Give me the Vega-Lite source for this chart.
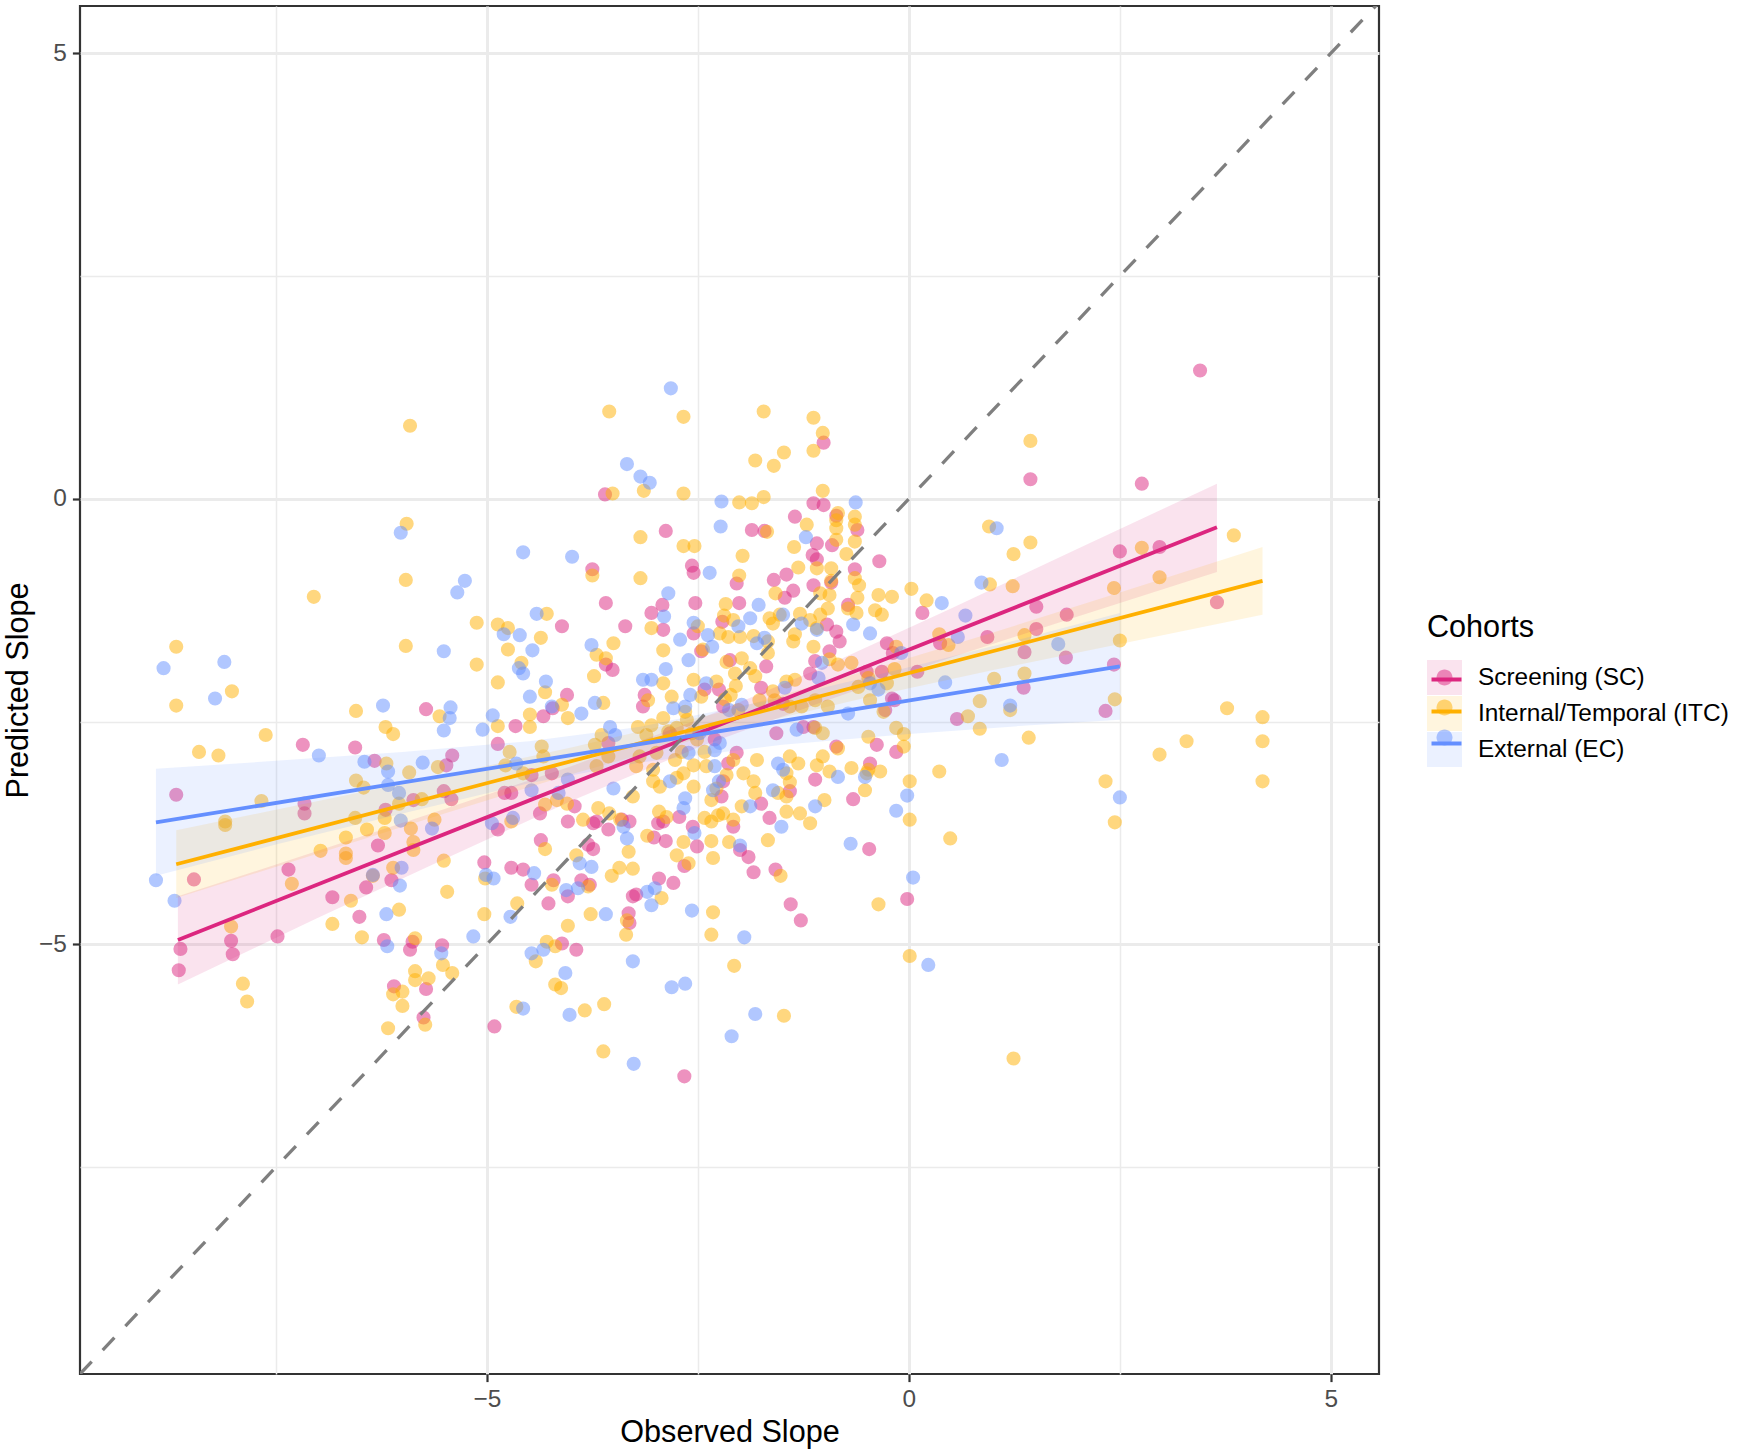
{
  "$schema": "https://vega.github.io/schema/vega-lite/v6.json",
  "width": 1299,
  "height": 1368,
  "autosize": {"type": "none"},
  "padding": {"left": 80, "top": 6, "right": 368, "bottom": 76},
  "background": "white",
  "config": {
    "view": {"stroke": "#333333", "strokeWidth": 2.2},
    "font": "Liberation Sans",
    "axis": {
      "domain": false,
      "grid": true,
      "format": ".0f",
      "gridColor": "#EBEBEB",
      "gridWidth": {"condition": {"test": "datum.value % 5 === 0", "value": 3}, "value": 1.5},
      "tickOpacity": {"condition": {"test": "datum.value % 5 === 0", "value": 1}, "value": 0},
      "tickColor": "#333333",
      "tickWidth": 2.2,
      "tickSize": 7.6,
      "labelFont": "Liberation Sans",
      "labelFontSize": 24.4,
      "labelColor": "#4D4D4D",
      "labelPadding": 6,
      "labelExpr": "datum.value % 5 === 0 ? datum.label : ''",
      "titleFont": "Liberation Sans",
      "titleFontSize": 30.6,
      "titleFontWeight": "normal",
      "titleColor": "black"
    },
    "legend": {
      "orient": "none",
      "legendX": 1347,
      "direction": "vertical",
      "padding": 0,
      "titleFont": "Liberation Sans",
      "titleFontSize": 30.6,
      "titleFontWeight": "normal",
      "titleColor": "black",
      "titlePadding": 16.5,
      "labelFont": "Liberation Sans",
      "labelFontSize": 24.4,
      "labelColor": "black",
      "labelOffset": 16,
      "labelLimit": 400,
      "rowPadding": 1,
      "symbolSize": 1225
    }
  },
  "datasets": {
    "fit": [
      {"cohort": "SC", "obs": -8.66, "pred": -4.95},
      {"cohort": "SC", "obs": 3.65, "pred": -0.32},
      {"cohort": "ITC", "obs": -8.68, "pred": -4.10},
      {"cohort": "ITC", "obs": 4.19, "pred": -0.92},
      {"cohort": "EC", "obs": -8.92, "pred": -3.63},
      {"cohort": "EC", "obs": 2.50, "pred": -1.88}
    ],
    "band": [
      {"cohort": "SC", "obs": -8.66, "lo": -5.45, "hi": -4.46},
      {"cohort": "SC", "obs": -7.0, "lo": -4.70, "hi": -3.95},
      {"cohort": "SC", "obs": -5.5, "lo": -4.04, "hi": -3.48},
      {"cohort": "SC", "obs": -4.0, "lo": -3.39, "hi": -3.00},
      {"cohort": "SC", "obs": -2.5, "lo": -2.79, "hi": -2.48},
      {"cohort": "SC", "obs": -1.0, "lo": -2.27, "hi": -1.88},
      {"cohort": "SC", "obs": 0.5, "lo": -1.78, "hi": -1.23},
      {"cohort": "SC", "obs": 2.0, "lo": -1.32, "hi": -0.56},
      {"cohort": "SC", "obs": 3.65, "lo": -0.82, "hi": 0.17},
      {"cohort": "ITC", "obs": -8.68, "lo": -4.48, "hi": -3.72},
      {"cohort": "ITC", "obs": -7.0, "lo": -3.98, "hi": -3.39},
      {"cohort": "ITC", "obs": -5.5, "lo": -3.53, "hi": -3.10},
      {"cohort": "ITC", "obs": -4.0, "lo": -3.09, "hi": -2.79},
      {"cohort": "ITC", "obs": -2.2, "lo": -2.61, "hi": -2.39},
      {"cohort": "ITC", "obs": -0.5, "lo": -2.23, "hi": -1.93},
      {"cohort": "ITC", "obs": 1.0, "lo": -1.92, "hi": -1.50},
      {"cohort": "ITC", "obs": 2.5, "lo": -1.63, "hi": -1.05},
      {"cohort": "ITC", "obs": 4.19, "lo": -1.30, "hi": -0.54},
      {"cohort": "EC", "obs": -8.92, "lo": -4.23, "hi": -3.03},
      {"cohort": "EC", "obs": -7.5, "lo": -3.88, "hi": -2.94},
      {"cohort": "EC", "obs": -6.0, "lo": -3.53, "hi": -2.84},
      {"cohort": "EC", "obs": -4.5, "lo": -3.19, "hi": -2.72},
      {"cohort": "EC", "obs": -3.2, "lo": -2.96, "hi": -2.56},
      {"cohort": "EC", "obs": -1.5, "lo": -2.76, "hi": -2.23},
      {"cohort": "EC", "obs": 0.0, "lo": -2.64, "hi": -1.89},
      {"cohort": "EC", "obs": 1.3, "lo": -2.55, "hi": -1.58},
      {"cohort": "EC", "obs": 2.5, "lo": -2.48, "hi": -1.28}
    ],
    "diag": [
      {"obs": -9.82, "pred": -9.82},
      {"obs": 5.57, "pred": 5.57}
    ],
    "pts": [
{"cohort":"SC","obs":-1.01,"pred":0.63},{"cohort":"SC","obs":-3.60,"pred":0.05},{"cohort":"SC","obs":-1.13,"pred":-0.05},{"cohort":"SC","obs":-1.01,"pred":-0.07},{"cohort":"SC","obs":-1.35,"pred":-0.20},{"cohort":"SC","obs":-0.86,"pred":-0.19},{"cohort":"SC","obs":-0.61,"pred":-0.35},{"cohort":"SC","obs":-2.88,"pred":-0.36},{"cohort":"SC","obs":-1.86,"pred":-0.35},{"cohort":"SC","obs":-1.71,"pred":-0.36},{"cohort":"SC","obs":-1.09,"pred":-0.50},{"cohort":"SC","obs":-0.91,"pred":-0.52},{"cohort":"SC","obs":-1.14,"pred":-0.63},{"cohort":"SC","obs":-3.75,"pred":-0.79},{"cohort":"SC","obs":-2.57,"pred":-0.75},{"cohort":"SC","obs":-2.55,"pred":-0.83},{"cohort":"SC","obs":-2.04,"pred":-0.95},{"cohort":"SC","obs":-1.60,"pred":-0.91},{"cohort":"SC","obs":-1.45,"pred":-0.85},{"cohort":"SC","obs":-1.09,"pred":-0.68},{"cohort":"SC","obs":-0.64,"pred":-0.79},{"cohort":"SC","obs":-0.35,"pred":-0.70},{"cohort":"SC","obs":-1.13,"pred":-0.97},{"cohort":"SC","obs":-0.92,"pred":-0.94},{"cohort":"SC","obs":-1.37,"pred":-1.03},{"cohort":"SC","obs":-1.47,"pred":-1.11},{"cohort":"SC","obs":-3.59,"pred":-1.17},{"cohort":"SC","obs":-2.53,"pred":-1.17},{"cohort":"SC","obs":-2.01,"pred":-1.17},{"cohort":"SC","obs":-2.92,"pred":-1.19},
{"cohort":"SC","obs":3.45,"pred":1.44},{"cohort":"SC","obs":1.44,"pred":0.22},{"cohort":"SC","obs":2.76,"pred":0.17},{"cohort":"SC","obs":2.50,"pred":-0.59},{"cohort":"SC","obs":2.97,"pred":-0.54},{"cohort":"SC","obs":1.51,"pred":-1.21},{"cohort":"SC","obs":3.65,"pred":-1.16},
{"cohort":"SC","obs":0.16,"pred":-1.28},{"cohort":"SC","obs":1.87,"pred":-1.30},{"cohort":"SC","obs":0.37,"pred":-1.62},{"cohort":"SC","obs":0.93,"pred":-1.55},{"cohort":"SC","obs":1.51,"pred":-1.46},{"cohort":"SC","obs":1.37,"pred":-1.72},{"cohort":"SC","obs":1.86,"pred":-1.78},{"cohort":"SC","obs":2.43,"pred":-1.86},{"cohort":"SC","obs":0.10,"pred":-1.94},{"cohort":"SC","obs":1.36,"pred":-2.12},{"cohort":"SC","obs":0.57,"pred":-2.47},{"cohort":"SC","obs":-0.17,"pred":-2.26},{"cohort":"SC","obs":2.33,"pred":-2.38},{"cohort":"SC","obs":-0.15,"pred":-2.84},
{"cohort":"SC","obs":-0.02,"pred":-4.49},
{"cohort":"SC","obs":-0.47,"pred":-3.93},{"cohort":"SC","obs":-1.58,"pred":-4.16},{"cohort":"SC","obs":-1.84,"pred":-4.19},{"cohort":"SC","obs":-1.90,"pred":-4.02},{"cohort":"SC","obs":-2.00,"pred":-3.94},{"cohort":"SC","obs":-2.51,"pred":-3.90},{"cohort":"SC","obs":-2.66,"pred":-4.12},{"cohort":"SC","obs":-2.88,"pred":-3.84},{"cohort":"SC","obs":-3.02,"pred":-3.80},{"cohort":"SC","obs":-2.96,"pred":-4.26},{"cohort":"SC","obs":-2.79,"pred":-4.31},{"cohort":"SC","obs":-3.23,"pred":-4.44},{"cohort":"SC","obs":-3.27,"pred":-4.46},{"cohort":"SC","obs":-1.40,"pred":-4.55},{"cohort":"SC","obs":-1.28,"pred":-4.73},{"cohort":"SC","obs":-3.32,"pred":-4.65},{"cohort":"SC","obs":-3.31,"pred":-4.76},{"cohort":"SC","obs":-4.27,"pred":-4.54},{"cohort":"SC","obs":-4.04,"pred":-4.46},{"cohort":"SC","obs":-3.88,"pred":-4.28},{"cohort":"SC","obs":-3.78,"pred":-4.33},{"cohort":"SC","obs":-4.21,"pred":-4.28},{"cohort":"SC","obs":-4.47,"pred":-4.33},{"cohort":"SC","obs":-4.57,"pred":-4.16},{"cohort":"SC","obs":-4.36,"pred":-3.83},{"cohort":"SC","obs":-3.80,"pred":-3.88},{"cohort":"SC","obs":-3.74,"pred":-3.93},{"cohort":"SC","obs":-4.11,"pred":-4.99},{"cohort":"SC","obs":-3.94,"pred":-5.06},{"cohort":"SC","obs":-2.66,"pred":-6.48},
{"cohort":"SC","obs":-8.47,"pred":-4.27},{"cohort":"SC","obs":-8.63,"pred":-5.05},{"cohort":"SC","obs":-8.65,"pred":-5.29},{"cohort":"SC","obs":-8.03,"pred":-4.96},{"cohort":"SC","obs":-8.01,"pred":-5.11},{"cohort":"SC","obs":-7.48,"pred":-4.91},{"cohort":"SC","obs":-7.35,"pred":-4.16},{"cohort":"SC","obs":-6.83,"pred":-4.47},{"cohort":"SC","obs":-6.51,"pred":-4.69},{"cohort":"SC","obs":-6.43,"pred":-4.36},{"cohort":"SC","obs":-6.29,"pred":-3.89},{"cohort":"SC","obs":-6.13,"pred":-4.28},{"cohort":"SC","obs":-6.22,"pred":-4.95},{"cohort":"SC","obs":-5.91,"pred":-5.06},{"cohort":"SC","obs":-5.88,"pred":-4.97},{"cohort":"SC","obs":-5.53,"pred":-5.01},{"cohort":"SC","obs":-5.72,"pred":-5.50},{"cohort":"SC","obs":-6.10,"pred":-5.47},{"cohort":"SC","obs":-5.75,"pred":-5.82},{"cohort":"SC","obs":-5.03,"pred":-4.08},{"cohort":"SC","obs":-4.71,"pred":-4.14},{"cohort":"SC","obs":-4.91,"pred":-5.92},
{"cohort":"SC","obs":-8.68,"pred":-3.32},{"cohort":"SC","obs":-7.16,"pred":-3.42},{"cohort":"SC","obs":-7.16,"pred":-3.53},{"cohort":"SC","obs":-7.18,"pred":-2.76},{"cohort":"SC","obs":-5.72,"pred":-2.36},{"cohort":"SC","obs":-4.66,"pred":-2.55},{"cohort":"SC","obs":-4.87,"pred":-2.75},{"cohort":"SC","obs":-6.56,"pred":-2.79},{"cohort":"SC","obs":-6.33,"pred":-2.94},{"cohort":"SC","obs":-5.41,"pred":-2.88},{"cohort":"SC","obs":-5.48,"pred":-2.99},{"cohort":"SC","obs":-5.51,"pred":-3.28},{"cohort":"SC","obs":-5.42,"pred":-3.37},{"cohort":"SC","obs":-5.87,"pred":-3.38},{"cohort":"SC","obs":-6.20,"pred":-3.49},{"cohort":"SC","obs":-4.79,"pred":-3.30},{"cohort":"SC","obs":-4.71,"pred":-3.30},{"cohort":"SC","obs":-4.87,"pred":-3.71},
{"cohort":"SC","obs":-4.11,"pred":-1.43},{"cohort":"SC","obs":-3.36,"pred":-1.43},{"cohort":"SC","obs":-3.05,"pred":-1.28},{"cohort":"SC","obs":-2.91,"pred":-1.47},{"cohort":"SC","obs":-2.55,"pred":-1.51},{"cohort":"SC","obs":-2.21,"pred":-1.38},{"cohort":"SC","obs":-2.46,"pred":-1.71},{"cohort":"SC","obs":-3.59,"pred":-1.86},{"cohort":"SC","obs":-3.51,"pred":-1.92},{"cohort":"SC","obs":-4.05,"pred":-2.20},{"cohort":"SC","obs":-4.22,"pred":-2.35},{"cohort":"SC","obs":-4.33,"pred":-2.44},{"cohort":"SC","obs":-3.13,"pred":-2.20},{"cohort":"SC","obs":-3.15,"pred":-2.33},{"cohort":"SC","obs":-2.42,"pred":-2.14},{"cohort":"SC","obs":-2.25,"pred":-2.14},{"cohort":"SC","obs":-2.12,"pred":-1.81},{"cohort":"SC","obs":-1.69,"pred":-1.88},{"cohort":"SC","obs":-2.20,"pred":-2.33},{"cohort":"SC","obs":-1.75,"pred":-2.12},{"cohort":"SC","obs":-1.49,"pred":-2.30},{"cohort":"SC","obs":-1.11,"pred":-1.82},{"cohort":"SC","obs":-1.17,"pred":-1.96},{"cohort":"SC","obs":-1.13,"pred":-2.56},{"cohort":"SC","obs":-1.25,"pred":-2.56},{"cohort":"SC","obs":-1.57,"pred":-2.63},{"cohort":"SC","obs":-0.50,"pred":-1.94},{"cohort":"SC","obs":-0.32,"pred":-1.94},{"cohort":"SC","obs":-0.20,"pred":-2.24},{"cohort":"SC","obs":-0.38,"pred":-2.76},{"cohort":"SC","obs":-0.86,"pred":-2.78},{"cohort":"SC","obs":-0.46,"pred":-2.97},{"cohort":"SC","obs":-0.66,"pred":-3.37},{"cohort":"SC","obs":-1.11,"pred":-3.15},{"cohort":"SC","obs":-1.65,"pred":-3.58},{"cohort":"SC","obs":-1.41,"pred":-3.28},{"cohort":"SC","obs":-1.75,"pred":-3.42},{"cohort":"SC","obs":-2.04,"pred":-2.85},{"cohort":"SC","obs":-2.14,"pred":-2.97},{"cohort":"SC","obs":-2.20,"pred":-3.17},{"cohort":"SC","obs":-2.22,"pred":-3.34},{"cohort":"SC","obs":-2.08,"pred":-3.68},{"cohort":"SC","obs":-2.30,"pred":-2.70},{"cohort":"SC","obs":-2.72,"pred":-3.57},{"cohort":"SC","obs":-2.91,"pred":-3.62},{"cohort":"SC","obs":-2.97,"pred":-3.64},{"cohort":"SC","obs":-2.56,"pred":-3.68},{"cohort":"SC","obs":-3.40,"pred":-3.60},{"cohort":"SC","obs":-3.70,"pred":-3.62},{"cohort":"SC","obs":-3.56,"pred":-3.71},{"cohort":"SC","obs":-3.31,"pred":-3.62},{"cohort":"SC","obs":-3.56,"pred":-2.74},{"cohort":"SC","obs":-2.83,"pred":-2.63},{"cohort":"SC","obs":-4.47,"pred":-3.10},{"cohort":"SC","obs":-3.96,"pred":-3.45},{"cohort":"SC","obs":-4.23,"pred":-3.08},{"cohort":"SC","obs":-4.37,"pred":-3.53},{"cohort":"SC","obs":-4.04,"pred":-3.62},{"cohort":"SC","obs":-3.74,"pred":-3.64},{"cohort":"SC","obs":-0.72,"pred":-1.19},{"cohort":"SC","obs":-0.97,"pred":-1.41},{"cohort":"SC","obs":-0.86,"pred":-1.49},{"cohort":"SC","obs":-0.82,"pred":-1.60},{"cohort":"SC","obs":-0.94,"pred":-1.71},{"cohort":"SC","obs":-0.26,"pred":-1.62},{"cohort":"SC","obs":-0.19,"pred":-1.73},{"cohort":"SC","obs":-0.28,"pred":-2.37},
{"cohort":"ITC","obs":-5.91,"pred":0.82},{"cohort":"ITC","obs":-5.95,"pred":-0.28},{"cohort":"ITC","obs":-5.96,"pred":-0.91},{"cohort":"ITC","obs":-7.05,"pred":-1.10},
{"cohort":"ITC","obs":-3.55,"pred":0.98},{"cohort":"ITC","obs":-2.67,"pred":0.92},{"cohort":"ITC","obs":-1.72,"pred":0.98},{"cohort":"ITC","obs":-1.13,"pred":0.91},{"cohort":"ITC","obs":-1.02,"pred":0.74},{"cohort":"ITC","obs":-1.13,"pred":0.54},{"cohort":"ITC","obs":-1.82,"pred":0.43},{"cohort":"ITC","obs":-1.48,"pred":0.52},{"cohort":"ITC","obs":-1.60,"pred":0.37},{"cohort":"ITC","obs":-3.51,"pred":0.06},{"cohort":"ITC","obs":-3.14,"pred":0.09},{"cohort":"ITC","obs":-2.67,"pred":0.06},{"cohort":"ITC","obs":-2.01,"pred":-0.04},{"cohort":"ITC","obs":-1.86,"pred":-0.05},{"cohort":"ITC","obs":-1.72,"pred":0.02},{"cohort":"ITC","obs":-1.02,"pred":0.09},{"cohort":"ITC","obs":-0.84,"pred":-0.16},{"cohort":"ITC","obs":-0.86,"pred":-0.24},{"cohort":"ITC","obs":-0.86,"pred":-0.33},{"cohort":"ITC","obs":-0.64,"pred":-0.20},{"cohort":"ITC","obs":-0.64,"pred":-0.29},{"cohort":"ITC","obs":-1.21,"pred":-0.29},{"cohort":"ITC","obs":-3.18,"pred":-0.43},{"cohort":"ITC","obs":-1.68,"pred":-0.37},{"cohort":"ITC","obs":-2.67,"pred":-0.53},{"cohort":"ITC","obs":-2.54,"pred":-0.53},{"cohort":"ITC","obs":-1.36,"pred":-0.54},{"cohort":"ITC","obs":-0.86,"pred":-0.46},{"cohort":"ITC","obs":-0.64,"pred":-0.48},{"cohort":"ITC","obs":-0.74,"pred":-0.62},{"cohort":"ITC","obs":-3.75,"pred":-0.86},{"cohort":"ITC","obs":-3.18,"pred":-0.89},{"cohort":"ITC","obs":-1.97,"pred":-0.64},{"cohort":"ITC","obs":-2.01,"pred":-0.86},{"cohort":"ITC","obs":-1.31,"pred":-0.77},{"cohort":"ITC","obs":-1.09,"pred":-0.78},{"cohort":"ITC","obs":-0.92,"pred":-0.78},{"cohort":"ITC","obs":-0.64,"pred":-0.89},{"cohort":"ITC","obs":-0.59,"pred":-0.97},{"cohort":"ITC","obs":-0.92,"pred":-0.92},{"cohort":"ITC","obs":-1.58,"pred":-1.06},{"cohort":"ITC","obs":-1.05,"pred":-1.06},{"cohort":"ITC","obs":-0.94,"pred":-1.08},{"cohort":"ITC","obs":-0.61,"pred":-1.11},{"cohort":"ITC","obs":-0.36,"pred":-1.08},{"cohort":"ITC","obs":-0.20,"pred":-1.10},{"cohort":"ITC","obs":-2.17,"pred":-1.18},
{"cohort":"ITC","obs":1.44,"pred":0.65},{"cohort":"ITC","obs":0.95,"pred":-0.31},{"cohort":"ITC","obs":1.44,"pred":-0.49},{"cohort":"ITC","obs":1.24,"pred":-0.62},{"cohort":"ITC","obs":3.85,"pred":-0.41},{"cohort":"ITC","obs":2.76,"pred":-0.55},{"cohort":"ITC","obs":2.97,"pred":-0.88},{"cohort":"ITC","obs":2.43,"pred":-1.00},{"cohort":"ITC","obs":0.96,"pred":-0.96},{"cohort":"ITC","obs":1.23,"pred":-0.98},{"cohort":"ITC","obs":0.03,"pred":-1.01},{"cohort":"ITC","obs":0.21,"pred":-1.14},
{"cohort":"ITC","obs":0.36,"pred":-1.52},{"cohort":"ITC","obs":0.47,"pred":-1.64},{"cohort":"ITC","obs":1.37,"pred":-1.53},{"cohort":"ITC","obs":2.50,"pred":-1.59},{"cohort":"ITC","obs":-0.17,"pred":-1.91},{"cohort":"ITC","obs":1.01,"pred":-2.02},{"cohort":"ITC","obs":1.37,"pred":-1.96},{"cohort":"ITC","obs":0.84,"pred":-2.27},{"cohort":"ITC","obs":0.70,"pred":-2.44},{"cohort":"ITC","obs":1.20,"pred":-2.37},{"cohort":"ITC","obs":0.84,"pred":-2.58},{"cohort":"ITC","obs":1.42,"pred":-2.68},{"cohort":"ITC","obs":2.44,"pred":-2.25},{"cohort":"ITC","obs":3.77,"pred":-2.35},{"cohort":"ITC","obs":4.19,"pred":-2.45},{"cohort":"ITC","obs":4.19,"pred":-2.72},{"cohort":"ITC","obs":3.29,"pred":-2.72},{"cohort":"ITC","obs":2.97,"pred":-2.87},{"cohort":"ITC","obs":4.19,"pred":-3.17},{"cohort":"ITC","obs":-0.06,"pred":-2.64},{"cohort":"ITC","obs":-0.06,"pred":-2.78},{"cohort":"ITC","obs":0.36,"pred":-3.06},{"cohort":"ITC","obs":0.01,"pred":-3.17},{"cohort":"ITC","obs":0.01,"pred":-3.60},{"cohort":"ITC","obs":0.49,"pred":-3.81},{"cohort":"ITC","obs":2.33,"pred":-3.17},{"cohort":"ITC","obs":2.44,"pred":-3.63},
{"cohort":"ITC","obs":0.01,"pred":-5.13},{"cohort":"ITC","obs":1.24,"pred":-6.28},
{"cohort":"ITC","obs":-1.67,"pred":-3.83},{"cohort":"ITC","obs":-1.52,"pred":-4.23},{"cohort":"ITC","obs":-2.13,"pred":-3.85},{"cohort":"ITC","obs":-2.32,"pred":-4.03},{"cohort":"ITC","obs":-2.34,"pred":-3.84},{"cohort":"ITC","obs":-2.67,"pred":-3.85},{"cohort":"ITC","obs":-2.75,"pred":-4.00},{"cohort":"ITC","obs":-2.61,"pred":-4.09},{"cohort":"ITC","obs":-3.10,"pred":-3.78},{"cohort":"ITC","obs":-3.32,"pred":-3.96},{"cohort":"ITC","obs":-3.27,"pred":-4.15},{"cohort":"ITC","obs":-3.43,"pred":-4.14},{"cohort":"ITC","obs":-3.52,"pred":-4.23},{"cohort":"ITC","obs":-2.93,"pred":-4.48},{"cohort":"ITC","obs":-2.32,"pred":-4.64},{"cohort":"ITC","obs":-2.34,"pred":-4.89},{"cohort":"ITC","obs":-0.36,"pred":-4.55},{"cohort":"ITC","obs":-3.77,"pred":-4.66},{"cohort":"ITC","obs":-4.04,"pred":-4.79},{"cohort":"ITC","obs":-3.34,"pred":-4.73},{"cohort":"ITC","obs":-3.35,"pred":-4.89},{"cohort":"ITC","obs":-3.80,"pred":-4.35},{"cohort":"ITC","obs":-4.23,"pred":-4.33},{"cohort":"ITC","obs":-4.31,"pred":-3.93},{"cohort":"ITC","obs":-3.94,"pred":-4.00},{"cohort":"ITC","obs":-4.29,"pred":-4.97},{"cohort":"ITC","obs":-4.42,"pred":-5.19},{"cohort":"ITC","obs":-4.19,"pred":-5.02},{"cohort":"ITC","obs":-4.19,"pred":-5.45},{"cohort":"ITC","obs":-4.12,"pred":-5.49},{"cohort":"ITC","obs":-2.07,"pred":-5.24},{"cohort":"ITC","obs":-3.84,"pred":-5.74},{"cohort":"ITC","obs":-3.61,"pred":-5.67},{"cohort":"ITC","obs":-1.48,"pred":-5.80},{"cohort":"ITC","obs":-3.62,"pred":-6.20},
{"cohort":"ITC","obs":-8.03,"pred":-4.80},{"cohort":"ITC","obs":-7.89,"pred":-5.44},{"cohort":"ITC","obs":-7.84,"pred":-5.64},{"cohort":"ITC","obs":-7.31,"pred":-4.32},{"cohort":"ITC","obs":-6.97,"pred":-3.95},{"cohort":"ITC","obs":-6.83,"pred":-4.77},{"cohort":"ITC","obs":-6.67,"pred":-3.98},{"cohort":"ITC","obs":-6.67,"pred":-4.03},{"cohort":"ITC","obs":-6.61,"pred":-4.51},{"cohort":"ITC","obs":-6.48,"pred":-4.92},{"cohort":"ITC","obs":-6.67,"pred":-3.80},{"cohort":"ITC","obs":-5.87,"pred":-3.85},{"cohort":"ITC","obs":-5.87,"pred":-3.94},{"cohort":"ITC","obs":-6.11,"pred":-4.14},{"cohort":"ITC","obs":-6.35,"pred":-4.23},{"cohort":"ITC","obs":-6.04,"pred":-4.61},{"cohort":"ITC","obs":-5.51,"pred":-4.06},{"cohort":"ITC","obs":-5.47,"pred":-4.41},{"cohort":"ITC","obs":-5.85,"pred":-4.93},{"cohort":"ITC","obs":-5.52,"pred":-5.23},{"cohort":"ITC","obs":-5.41,"pred":-5.32},{"cohort":"ITC","obs":-5.85,"pred":-5.30},{"cohort":"ITC","obs":-5.85,"pred":-5.40},{"cohort":"ITC","obs":-5.69,"pred":-5.38},{"cohort":"ITC","obs":-6.11,"pred":-5.56},{"cohort":"ITC","obs":-6.00,"pred":-5.53},{"cohort":"ITC","obs":-6.00,"pred":-5.69},{"cohort":"ITC","obs":-6.17,"pred":-5.94},{"cohort":"ITC","obs":-5.73,"pred":-5.90},{"cohort":"ITC","obs":-5.02,"pred":-4.26},{"cohort":"ITC","obs":-5.03,"pred":-4.66},{"cohort":"ITC","obs":-4.64,"pred":-4.54},{"cohort":"ITC","obs":-4.65,"pred":-5.70},
{"cohort":"ITC","obs":-8.68,"pred":-1.66},{"cohort":"ITC","obs":-8.68,"pred":-2.32},{"cohort":"ITC","obs":-8.02,"pred":-2.16},{"cohort":"ITC","obs":-8.41,"pred":-2.84},{"cohort":"ITC","obs":-8.18,"pred":-2.88},{"cohort":"ITC","obs":-7.62,"pred":-2.65},{"cohort":"ITC","obs":-8.10,"pred":-3.62},{"cohort":"ITC","obs":-8.10,"pred":-3.66},{"cohort":"ITC","obs":-7.67,"pred":-3.39},{"cohort":"ITC","obs":-6.55,"pred":-2.38},{"cohort":"ITC","obs":-6.20,"pred":-2.56},{"cohort":"ITC","obs":-6.11,"pred":-2.64},{"cohort":"ITC","obs":-5.96,"pred":-1.65},{"cohort":"ITC","obs":-5.12,"pred":-1.39},{"cohort":"ITC","obs":-5.12,"pred":-1.86},{"cohort":"ITC","obs":-4.87,"pred":-1.41},{"cohort":"ITC","obs":-4.75,"pred":-1.45},{"cohort":"ITC","obs":-4.75,"pred":-1.69},{"cohort":"ITC","obs":-4.87,"pred":-2.06},{"cohort":"ITC","obs":-4.59,"pred":-1.84},{"cohort":"ITC","obs":-5.56,"pred":-2.44},{"cohort":"ITC","obs":-4.87,"pred":-2.55},{"cohort":"ITC","obs":-4.73,"pred":-2.84},{"cohort":"ITC","obs":-4.78,"pred":-2.99},{"cohort":"ITC","obs":-6.19,"pred":-2.97},{"cohort":"ITC","obs":-5.58,"pred":-3.01},{"cohort":"ITC","obs":-5.92,"pred":-3.07},{"cohort":"ITC","obs":-6.55,"pred":-3.16},{"cohort":"ITC","obs":-6.46,"pred":-3.24},{"cohort":"ITC","obs":-5.77,"pred":-3.37},{"cohort":"ITC","obs":-6.04,"pred":-3.42},{"cohort":"ITC","obs":-6.56,"pred":-3.58},{"cohort":"ITC","obs":-6.21,"pred":-3.58},{"cohort":"ITC","obs":-6.42,"pred":-3.71},{"cohort":"ITC","obs":-6.21,"pred":-3.75},{"cohort":"ITC","obs":-5.90,"pred":-3.70},{"cohort":"ITC","obs":-5.62,"pred":-3.60},{"cohort":"ITC","obs":-4.71,"pred":-3.62},
{"cohort":"ITC","obs":-4.29,"pred":-1.29},{"cohort":"ITC","obs":-4.36,"pred":-1.56},{"cohort":"ITC","obs":-3.05,"pred":-1.45},{"cohort":"ITC","obs":-2.50,"pred":-1.43},{"cohort":"ITC","obs":-2.19,"pred":-1.31},{"cohort":"ITC","obs":-2.08,"pred":-1.36},{"cohort":"ITC","obs":-2.00,"pred":-1.55},{"cohort":"ITC","obs":-2.24,"pred":-1.51},{"cohort":"ITC","obs":-2.14,"pred":-1.55},{"cohort":"ITC","obs":-2.44,"pred":-1.69},{"cohort":"ITC","obs":-2.91,"pred":-1.70},{"cohort":"ITC","obs":-3.50,"pred":-1.62},{"cohort":"ITC","obs":-3.70,"pred":-1.75},{"cohort":"ITC","obs":-3.59,"pred":-1.79},{"cohort":"ITC","obs":-3.73,"pred":-1.99},{"cohort":"ITC","obs":-4.31,"pred":-2.17},{"cohort":"ITC","obs":-4.11,"pred":-2.31},{"cohort":"ITC","obs":-4.04,"pred":-2.46},{"cohort":"ITC","obs":-4.49,"pred":-2.42},{"cohort":"ITC","obs":-4.49,"pred":-2.56},{"cohort":"ITC","obs":-3.62,"pred":-2.29},{"cohort":"ITC","obs":-2.91,"pred":-2.07},{"cohort":"ITC","obs":-3.09,"pred":-2.26},{"cohort":"ITC","obs":-2.81,"pred":-2.22},{"cohort":"ITC","obs":-2.65,"pred":-2.39},{"cohort":"ITC","obs":-2.55,"pred":-2.03},{"cohort":"ITC","obs":-2.46,"pred":-2.22},{"cohort":"ITC","obs":-2.28,"pred":-2.05},{"cohort":"ITC","obs":-2.11,"pred":-2.20},{"cohort":"ITC","obs":-2.05,"pred":-2.10},{"cohort":"ITC","obs":-2.18,"pred":-2.25},{"cohort":"ITC","obs":-2.16,"pred":-1.83},{"cohort":"ITC","obs":-1.98,"pred":-1.79},{"cohort":"ITC","obs":-2.06,"pred":-1.96},{"cohort":"ITC","obs":-1.88,"pred":-1.90},{"cohort":"ITC","obs":-1.82,"pred":-1.99},{"cohort":"ITC","obs":-1.67,"pred":-1.73},{"cohort":"ITC","obs":-1.84,"pred":-1.54},{"cohort":"ITC","obs":-1.67,"pred":-1.60},{"cohort":"ITC","obs":-2.02,"pred":-2.37},{"cohort":"ITC","obs":-1.77,"pred":-2.26},{"cohort":"ITC","obs":-1.61,"pred":-2.16},{"cohort":"ITC","obs":-1.59,"pred":-2.26},{"cohort":"ITC","obs":-1.45,"pred":-2.05},{"cohort":"ITC","obs":-1.35,"pred":-2.03},{"cohort":"ITC","obs":-1.27,"pred":-2.33},{"cohort":"ITC","obs":-1.41,"pred":-2.33},{"cohort":"ITC","obs":-1.11,"pred":-2.26},{"cohort":"ITC","obs":-0.94,"pred":-1.80},{"cohort":"ITC","obs":-0.84,"pred":-1.86},{"cohort":"ITC","obs":-0.68,"pred":-1.84},{"cohort":"ITC","obs":-0.96,"pred":-2.33},{"cohort":"ITC","obs":-1.11,"pred":-2.57},{"cohort":"ITC","obs":-1.02,"pred":-2.63},{"cohort":"ITC","obs":-0.48,"pred":-2.01},{"cohort":"ITC","obs":-0.60,"pred":-2.11},{"cohort":"ITC","obs":-0.30,"pred":-2.39},{"cohort":"ITC","obs":-0.48,"pred":-2.67},{"cohort":"ITC","obs":-0.84,"pred":-2.80},{"cohort":"ITC","obs":-1.02,"pred":-2.89},{"cohort":"ITC","obs":-1.09,"pred":-2.99},{"cohort":"ITC","obs":-0.94,"pred":-3.06},{"cohort":"ITC","obs":-0.68,"pred":-3.02},{"cohort":"ITC","obs":-0.48,"pred":-3.04},{"cohort":"ITC","obs":-0.34,"pred":-3.06},{"cohort":"ITC","obs":-0.50,"pred":-3.08},{"cohort":"ITC","obs":-0.52,"pred":-3.27},{"cohort":"ITC","obs":-1.00,"pred":-3.38},{"cohort":"ITC","obs":-1.17,"pred":-3.64},{"cohort":"ITC","obs":-1.29,"pred":-3.53},{"cohort":"ITC","obs":-1.45,"pred":-3.51},{"cohort":"ITC","obs":-1.41,"pred":-2.89},{"cohort":"ITC","obs":-1.31,"pred":-2.97},{"cohort":"ITC","obs":-1.45,"pred":-3.08},{"cohort":"ITC","obs":-1.41,"pred":-3.18},{"cohort":"ITC","obs":-1.55,"pred":-3.30},{"cohort":"ITC","obs":-1.45,"pred":-3.34},{"cohort":"ITC","obs":-1.82,"pred":-3.30},{"cohort":"ITC","obs":-1.98,"pred":-3.45},{"cohort":"ITC","obs":-1.96,"pred":-3.08},{"cohort":"ITC","obs":-1.84,"pred":-3.17},{"cohort":"ITC","obs":-1.80,"pred":-2.93},{"cohort":"ITC","obs":-2.08,"pred":-2.93},{"cohort":"ITC","obs":-2.16,"pred":-3.10},{"cohort":"ITC","obs":-2.28,"pred":-3.25},{"cohort":"ITC","obs":-2.34,"pred":-3.38},{"cohort":"ITC","obs":-2.20,"pred":-3.53},{"cohort":"ITC","obs":-2.08,"pred":-3.60},{"cohort":"ITC","obs":-2.42,"pred":-2.84},{"cohort":"ITC","obs":-2.40,"pred":-3.00},{"cohort":"ITC","obs":-2.55,"pred":-2.99},{"cohort":"ITC","obs":-2.69,"pred":-2.84},{"cohort":"ITC","obs":-2.55,"pred":-3.23},{"cohort":"ITC","obs":-2.67,"pred":-3.08},{"cohort":"ITC","obs":-2.75,"pred":-3.13},{"cohort":"ITC","obs":-2.95,"pred":-3.23},{"cohort":"ITC","obs":-3.03,"pred":-3.17},{"cohort":"ITC","obs":-2.96,"pred":-3.51},{"cohort":"ITC","obs":-2.87,"pred":-3.57},{"cohort":"ITC","obs":-2.42,"pred":-3.58},{"cohort":"ITC","obs":-2.34,"pred":-3.62},{"cohort":"ITC","obs":-2.26,"pred":-3.55},{"cohort":"ITC","obs":-3.27,"pred":-3.34},{"cohort":"ITC","obs":-3.42,"pred":-3.60},{"cohort":"ITC","obs":-3.55,"pred":-3.53},{"cohort":"ITC","obs":-3.68,"pred":-3.47},{"cohort":"ITC","obs":-3.23,"pred":-3.00},{"cohort":"ITC","obs":-3.03,"pred":-3.04},{"cohort":"ITC","obs":-3.19,"pred":-2.89},{"cohort":"ITC","obs":-2.99,"pred":-2.85},{"cohort":"ITC","obs":-2.77,"pred":-2.93},{"cohort":"ITC","obs":-3.70,"pred":-3.00},{"cohort":"ITC","obs":-3.56,"pred":-2.89},{"cohort":"ITC","obs":-3.72,"pred":-2.76},{"cohort":"ITC","obs":-3.64,"pred":-2.65},{"cohort":"ITC","obs":-3.21,"pred":-2.56},{"cohort":"ITC","obs":-3.05,"pred":-2.54},{"cohort":"ITC","obs":-3.11,"pred":-2.65},{"cohort":"ITC","obs":-2.91,"pred":-2.46},{"cohort":"ITC","obs":-2.85,"pred":-2.61},{"cohort":"ITC","obs":-2.75,"pred":-2.57},{"cohort":"ITC","obs":-2.63,"pred":-2.48},{"cohort":"ITC","obs":-2.57,"pred":-2.63},{"cohort":"ITC","obs":-2.51,"pred":-2.70},{"cohort":"ITC","obs":-4.35,"pred":-2.78},{"cohort":"ITC","obs":-4.33,"pred":-2.89},{"cohort":"ITC","obs":-4.57,"pred":-3.08},{"cohort":"ITC","obs":-4.17,"pred":-3.38},{"cohort":"ITC","obs":-4.05,"pred":-3.42},{"cohort":"ITC","obs":-4.31,"pred":-3.43},{"cohort":"ITC","obs":-3.86,"pred":-3.60},{"cohort":"ITC","obs":-0.96,"pred":-1.23},{"cohort":"ITC","obs":-0.72,"pred":-1.23},{"cohort":"ITC","obs":-0.62,"pred":-1.28},{"cohort":"ITC","obs":-0.40,"pred":-1.25},{"cohort":"ITC","obs":-0.32,"pred":-1.30},{"cohort":"ITC","obs":-1.09,"pred":-1.45},{"cohort":"ITC","obs":-1.13,"pred":-1.66},{"cohort":"ITC","obs":-1.37,"pred":-1.60},{"cohort":"ITC","obs":-1.35,"pred":-1.52},{"cohort":"ITC","obs":-1.29,"pred":-1.29},{"cohort":"ITC","obs":-1.53,"pred":-1.30},{"cohort":"ITC","obs":-1.61,"pred":-1.40},{"cohort":"ITC","obs":-1.65,"pred":-1.34},{"cohort":"ITC","obs":-1.17,"pred":-1.36},{"cohort":"ITC","obs":-1.05,"pred":-1.30},{"cohort":"ITC","obs":-0.15,"pred":-1.66},{"cohort":"ITC","obs":-0.46,"pred":-2.26},{"cohort":"ITC","obs":-0.26,"pred":-2.07},{"cohort":"ITC","obs":-0.15,"pred":-2.57},
{"cohort":"EC","obs":-6.02,"pred":-0.38},{"cohort":"EC","obs":-5.26,"pred":-0.92},{"cohort":"EC","obs":-5.35,"pred":-1.05},{"cohort":"EC","obs":-4.57,"pred":-0.60},
{"cohort":"EC","obs":-2.82,"pred":1.24},{"cohort":"EC","obs":-3.34,"pred":0.39},{"cohort":"EC","obs":-3.18,"pred":0.25},{"cohort":"EC","obs":-3.07,"pred":0.18},{"cohort":"EC","obs":-2.22,"pred":-0.03},{"cohort":"EC","obs":-0.63,"pred":-0.04},{"cohort":"EC","obs":-2.23,"pred":-0.31},{"cohort":"EC","obs":-1.22,"pred":-0.43},{"cohort":"EC","obs":-3.99,"pred":-0.65},{"cohort":"EC","obs":-2.36,"pred":-0.83},{"cohort":"EC","obs":-2.85,"pred":-1.06},{"cohort":"EC","obs":-1.78,"pred":-1.19},
{"cohort":"EC","obs":1.04,"pred":-0.33},{"cohort":"EC","obs":0.86,"pred":-0.94},{"cohort":"EC","obs":0.39,"pred":-1.17},
{"cohort":"EC","obs":0.67,"pred":-1.31},{"cohort":"EC","obs":0.58,"pred":-1.55},{"cohort":"EC","obs":1.77,"pred":-1.63},{"cohort":"EC","obs":-0.09,"pred":-1.73},{"cohort":"EC","obs":0.43,"pred":-2.06},{"cohort":"EC","obs":1.20,"pred":-2.32},{"cohort":"EC","obs":1.10,"pred":-2.93},{"cohort":"EC","obs":-0.02,"pred":-3.33},{"cohort":"EC","obs":-0.15,"pred":-3.50},{"cohort":"EC","obs":2.50,"pred":-3.35},
{"cohort":"EC","obs":0.05,"pred":-4.25},{"cohort":"EC","obs":0.23,"pred":-5.23},
{"cohort":"EC","obs":-0.69,"pred":-3.87},{"cohort":"EC","obs":-2.00,"pred":-3.89},{"cohort":"EC","obs":-3.34,"pred":-3.81},{"cohort":"EC","obs":-3.01,"pred":-4.37},{"cohort":"EC","obs":-3.10,"pred":-4.41},{"cohort":"EC","obs":-3.05,"pred":-4.56},{"cohort":"EC","obs":-2.57,"pred":-4.62},{"cohort":"EC","obs":-1.95,"pred":-4.92},{"cohort":"EC","obs":-3.59,"pred":-4.66},{"cohort":"EC","obs":-4.06,"pred":-4.39},{"cohort":"EC","obs":-3.92,"pred":-4.37},{"cohort":"EC","obs":-4.44,"pred":-4.20},{"cohort":"EC","obs":-3.90,"pred":-4.09},{"cohort":"EC","obs":-3.76,"pred":-4.13},{"cohort":"EC","obs":-4.47,"pred":-5.10},{"cohort":"EC","obs":-4.33,"pred":-5.06},{"cohort":"EC","obs":-3.27,"pred":-5.19},{"cohort":"EC","obs":-4.07,"pred":-5.32},{"cohort":"EC","obs":-2.81,"pred":-5.48},{"cohort":"EC","obs":-2.65,"pred":-5.44},{"cohort":"EC","obs":-4.57,"pred":-5.72},{"cohort":"EC","obs":-4.02,"pred":-5.79},{"cohort":"EC","obs":-1.82,"pred":-5.78},{"cohort":"EC","obs":-2.10,"pred":-6.03},{"cohort":"EC","obs":-3.26,"pred":-6.34},
{"cohort":"EC","obs":-8.92,"pred":-4.28},{"cohort":"EC","obs":-8.70,"pred":-4.51},{"cohort":"EC","obs":-6.01,"pred":-4.14},{"cohort":"EC","obs":-6.03,"pred":-4.34},{"cohort":"EC","obs":-6.19,"pred":-4.66},{"cohort":"EC","obs":-6.18,"pred":-5.02},{"cohort":"EC","obs":-5.54,"pred":-5.10},{"cohort":"EC","obs":-5.01,"pred":-4.22},{"cohort":"EC","obs":-4.92,"pred":-4.26},{"cohort":"EC","obs":-4.72,"pred":-4.69},{"cohort":"EC","obs":-5.16,"pred":-4.91},{"cohort":"EC","obs":-6.35,"pred":-4.22},
{"cohort":"EC","obs":-8.83,"pred":-1.90},{"cohort":"EC","obs":-8.11,"pred":-1.83},{"cohort":"EC","obs":-8.22,"pred":-2.24},{"cohort":"EC","obs":-6.99,"pred":-2.88},{"cohort":"EC","obs":-6.23,"pred":-2.32},{"cohort":"EC","obs":-5.51,"pred":-1.71},{"cohort":"EC","obs":-4.80,"pred":-1.52},{"cohort":"EC","obs":-4.61,"pred":-1.53},{"cohort":"EC","obs":-4.62,"pred":-1.90},{"cohort":"EC","obs":-4.57,"pred":-1.96},{"cohort":"EC","obs":-5.43,"pred":-2.34},{"cohort":"EC","obs":-5.44,"pred":-2.46},{"cohort":"EC","obs":-5.51,"pred":-2.60},{"cohort":"EC","obs":-4.93,"pred":-2.43},{"cohort":"EC","obs":-5.05,"pred":-2.59},{"cohort":"EC","obs":-4.65,"pred":-2.97},{"cohort":"EC","obs":-6.45,"pred":-2.95},{"cohort":"EC","obs":-6.17,"pred":-3.06},{"cohort":"EC","obs":-5.76,"pred":-2.96},{"cohort":"EC","obs":-6.17,"pred":-3.21},{"cohort":"EC","obs":-6.04,"pred":-3.30},{"cohort":"EC","obs":-6.02,"pred":-3.61},{"cohort":"EC","obs":-5.65,"pred":-3.70},{"cohort":"EC","obs":-4.94,"pred":-3.64},{"cohort":"EC","obs":-4.69,"pred":-3.58},
{"cohort":"EC","obs":-4.41,"pred":-1.29},{"cohort":"EC","obs":-4.46,"pred":-1.70},{"cohort":"EC","obs":-2.90,"pred":-1.32},{"cohort":"EC","obs":-2.55,"pred":-1.39},{"cohort":"EC","obs":-2.02,"pred":-1.43},{"cohort":"EC","obs":-1.88,"pred":-1.34},{"cohort":"EC","obs":-2.38,"pred":-1.53},{"cohort":"EC","obs":-2.33,"pred":-1.66},{"cohort":"EC","obs":-2.71,"pred":-1.58},{"cohort":"EC","obs":-2.61,"pred":-1.81},{"cohort":"EC","obs":-3.76,"pred":-1.64},{"cohort":"EC","obs":-4.30,"pred":-2.05},{"cohort":"EC","obs":-4.49,"pred":-2.22},{"cohort":"EC","obs":-4.23,"pred":-2.33},{"cohort":"EC","obs":-3.88,"pred":-2.41},{"cohort":"EC","obs":-3.72,"pred":-2.29},{"cohort":"EC","obs":-3.15,"pred":-2.03},{"cohort":"EC","obs":-3.05,"pred":-2.03},{"cohort":"EC","obs":-2.88,"pred":-1.91},{"cohort":"EC","obs":-2.79,"pred":-2.35},{"cohort":"EC","obs":-2.65,"pred":-2.33},{"cohort":"EC","obs":-2.59,"pred":-2.20},{"cohort":"EC","obs":-2.40,"pred":-2.07},{"cohort":"EC","obs":-1.80,"pred":-1.62},{"cohort":"EC","obs":-1.71,"pred":-1.56},{"cohort":"EC","obs":-2.13,"pred":-2.37},{"cohort":"EC","obs":-1.98,"pred":-2.31},{"cohort":"EC","obs":-1.47,"pred":-2.12},{"cohort":"EC","obs":-1.07,"pred":-2.01},{"cohort":"EC","obs":-1.03,"pred":-1.84},{"cohort":"EC","obs":-1.33,"pred":-2.59},{"cohort":"EC","obs":-0.46,"pred":-2.07},{"cohort":"EC","obs":-0.72,"pred":-2.41},{"cohort":"EC","obs":-0.84,"pred":-3.12},{"cohort":"EC","obs":-0.52,"pred":-3.12},{"cohort":"EC","obs":-1.51,"pred":-3.68},{"cohort":"EC","obs":-1.11,"pred":-3.45},{"cohort":"EC","obs":-1.49,"pred":-3.04},{"cohort":"EC","obs":-1.55,"pred":-2.97},{"cohort":"EC","obs":-1.61,"pred":-3.27},{"cohort":"EC","obs":-1.88,"pred":-3.45},{"cohort":"EC","obs":-2.25,"pred":-3.17},{"cohort":"EC","obs":-2.32,"pred":-3.27},{"cohort":"EC","obs":-2.30,"pred":-3.00},{"cohort":"EC","obs":-2.30,"pred":-2.82},{"cohort":"EC","obs":-2.24,"pred":-2.74},{"cohort":"EC","obs":-2.61,"pred":-2.85},{"cohort":"EC","obs":-2.83,"pred":-3.17},{"cohort":"EC","obs":-2.65,"pred":-3.36},{"cohort":"EC","obs":-2.67,"pred":-3.47},{"cohort":"EC","obs":-2.54,"pred":-3.75},{"cohort":"EC","obs":-3.38,"pred":-3.68},{"cohort":"EC","obs":-3.50,"pred":-3.25},{"cohort":"EC","obs":-3.48,"pred":-2.65},{"cohort":"EC","obs":-3.54,"pred":-2.56},{"cohort":"EC","obs":-2.48,"pred":-2.63},{"cohort":"EC","obs":-4.15,"pred":-3.30},{"cohort":"EC","obs":-4.04,"pred":-3.15},{"cohort":"EC","obs":-4.47,"pred":-3.27},{"cohort":"EC","obs":-0.66,"pred":-1.41},{"cohort":"EC","obs":-1.09,"pred":-1.47},{"cohort":"EC","obs":-1.27,"pred":-1.40},{"cohort":"EC","obs":-1.49,"pred":-1.30},{"cohort":"EC","obs":-0.46,"pred":-1.51},{"cohort":"EC","obs":-0.36,"pred":-2.14}
    ]
  },
  "layer": [
    {
      "data": {"name": "pts"},
      "mark": {"type": "circle", "size": 200, "opacity": 0.5},
      "encoding": {
        "x": {"field": "obs", "type": "quantitative", "title": "Observed Slope", "scale": {"domain": [-9.82, 5.57], "nice": false, "zero": false}, "axis": {"title": "Observed Slope", "values": [-7.5, -5, -2.5, 0, 2.5, 5], "format": ".0f", "titlePadding": 6}},
        "y": {"field": "pred", "type": "quantitative", "title": "Predicted Slope", "scale": {"domain": [-9.82, 5.53], "nice": false, "zero": false}, "axis": {"title": "Predicted Slope", "values": [-7.5, -5, -2.5, 0, 2.5, 5], "format": ".0f", "titlePadding": 5}},
        "fill": {"field": "cohort", "type": "nominal", "scale": {"range": ["#648FFF", "#FFB000", "#DC267F"]},
          "legend": {"title": null, "legendY": 654, "values": ["SC", "ITC", "EC"], "labelExpr": "''", "symbolType": "M -0.457 0 A 0.457 0.457 0 1 1 0.457 0 A 0.457 0.457 0 1 1 -0.457 0 Z", "symbolOpacity": 0.5, "symbolStrokeWidth": 0, "zindex": 1}}
      }
    },
    {
      "data": {"name": "band"},
      "mark": {"type": "area", "opacity": 0.13},
      "encoding": {
        "x": {"field": "obs", "type": "quantitative", "title": "Observed Slope", "scale": {"domain": [-9.82, 5.57], "nice": false, "zero": false}},
        "y": {"field": "lo", "type": "quantitative", "title": "Predicted Slope", "scale": {"domain": [-9.82, 5.53], "nice": false, "zero": false}},
        "y2": {"field": "hi"},
        "color": {"field": "cohort", "type": "nominal", "scale": {"range": ["#648FFF", "#FFB000", "#DC267F"]},
          "legend": {"title": "Cohorts", "legendY": 607, "values": ["SC", "ITC", "EC"], "labelExpr": "datum.label == 'SC' ? 'Screening (SC)' : datum.label == 'ITC' ? 'Internal/Temporal (ITC)' : 'External (EC)'", "symbolType": "square", "symbolOpacity": 0.13, "symbolStrokeWidth": 0, "zindex": 0}}
      }
    },
    {
      "data": {"name": "fit"},
      "mark": {"type": "line", "strokeWidth": 3.8},
      "encoding": {
        "x": {"field": "obs", "type": "quantitative", "title": "Observed Slope", "scale": {"domain": [-9.82, 5.57], "nice": false, "zero": false}},
        "y": {"field": "pred", "type": "quantitative", "title": "Predicted Slope", "scale": {"domain": [-9.82, 5.53], "nice": false, "zero": false}},
        "stroke": {"field": "cohort", "type": "nominal", "scale": {"range": ["#648FFF", "#FFB000", "#DC267F"]},
          "legend": {"title": null, "legendY": 654, "values": ["SC", "ITC", "EC"], "labelExpr": "''", "symbolType": "M -0.857 0 L 0.857 0", "symbolStrokeWidth": 4, "symbolOpacity": 1, "symbolFillColor": "transparent", "zindex": 2}}
      }
    },
    {
      "data": {"name": "diag"},
      "mark": {"type": "line", "color": "#7F7F7F", "strokeWidth": 3.3, "strokeDash": [17, 16], "clip": true},
      "encoding": {
        "x": {"field": "obs", "type": "quantitative", "title": "Observed Slope", "scale": {"domain": [-9.82, 5.57], "nice": false, "zero": false}},
        "y": {"field": "pred", "type": "quantitative", "title": "Predicted Slope", "scale": {"domain": [-9.82, 5.53], "nice": false, "zero": false}}
      }
    }
  ]
}
